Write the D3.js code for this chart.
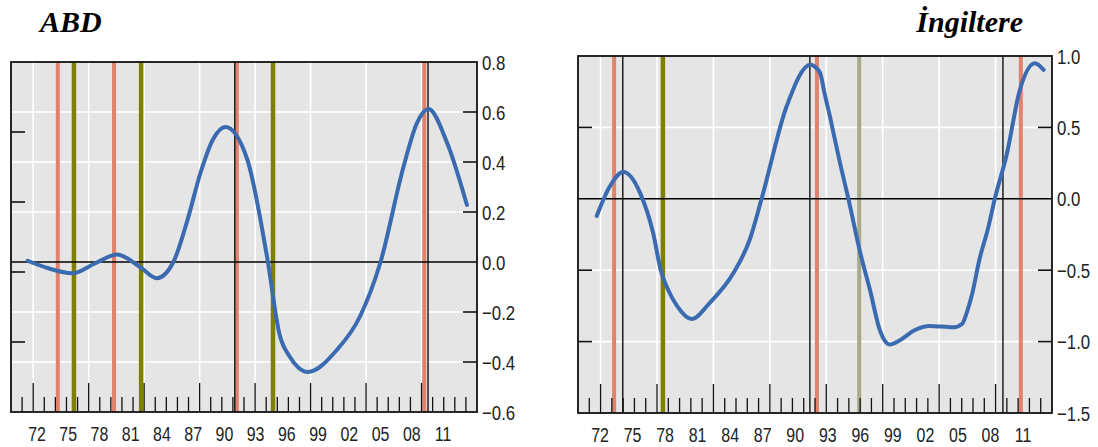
<!DOCTYPE html>
<html>
<head>
<meta charset="utf-8">
<script src="https://cdn.jsdelivr.net/npm/d3@7"></script>
<style>
  body { margin: 0; background: #fff; }
  .num { font-family: "Liberation Sans", Arial, sans-serif; fill: #222; }
  .ttl { font-family: "Liberation Serif", "Times New Roman", serif; font-weight: bold; font-style: italic; fill: #000; }
</style>
</head>
<body>
<svg width="1098" height="447"></svg>
<script>
const width = 1098, height = 447
var svg = d3.select("svg")

// year labels shared by both panels
const yearLabels = [1972, 1975, 1978, 1981, 1984, 1987, 1990, 1993, 1996, 1999, 2002, 2005, 2008, 2011]

// ABD (USA)
const usYears = [1971.1, 1973.0, 1975.4, 1977.6, 1979.7, 1981.9, 1983.5, 1985.1, 1986.4, 1987.7, 1988.9, 1990.1, 1992.2, 1994.1, 1995.3, 1996.3, 1997.1, 1998.0, 2000.8, 2003.0, 2005.0, 2007.2, 2008.5, 2009.6, 2011.4, 2013.3]
const usValues = [0.005, -0.024, -0.045, -0.005, 0.03, -0.02, -0.065, 0.0, 0.16, 0.356, 0.49, 0.54, 0.41, 0.02, -0.29, -0.38, -0.422, -0.44, -0.352, -0.22, 0.0, 0.38, 0.556, 0.612, 0.476, 0.228]
const usRed = [1974.0, 1979.4, 1991.2, 2009.2]
const usOlive = [1975.55, 1982.0, 1994.67]
const usBlack = [1991.0, 2009.56]
const usRightTicks = [0.8, 0.6, 0.4, 0.2, 0.0, -0.2, -0.4, -0.6]

// İngiltere (UK)
const ukYears = [1971.7, 1972.9, 1974.15, 1975.7, 1976.9, 1977.6, 1978.3, 1979.1, 1980.45, 1982.1, 1984.3, 1985.8, 1986.9, 1989.2, 1991.4, 1991.8, 1992.3, 1992.7, 1993.2, 1994.1, 1994.9, 1996.0, 1996.9, 1997.8, 1998.7, 1999.65, 2001.0, 2002.4, 2004.6, 2005.4, 2005.8, 2006.3, 2007.0, 2007.8, 2008.4, 2009.5, 2010.7, 2012.1, 2012.9]
const ukValues = [-0.12, 0.086, 0.187, 0.04, -0.24, -0.5, -0.64, -0.75, -0.842, -0.73, -0.52, -0.287, 0.0, 0.646, 0.938, 0.925, 0.88, 0.74, 0.576, 0.26, 0.0, -0.38, -0.64, -0.92, -1.02, -0.99, -0.92, -0.89, -0.9, -0.875, -0.8, -0.67, -0.42, -0.2, 0.0, 0.31, 0.76, 0.95, 0.903]
const ukRed = [1973.3, 1992.0, 2010.8]
const ukOlive = [1977.8]
const ukPaleOlive = [1995.9]
const ukBlack = [1974.1, 1991.35, 2009.15]
const ukRightTicks = [1.0, 0.5, 0.0, -0.5, -1.0, -1.5]

drawPanel({
    title: "ABD", titleX: 40, titleAnchor: "start",
    frame: { x0: 11, x1: 477, y0: 62, y1: 412 },
    xRange: [37, 443], labelY: 441,
    yDomain: [-0.6, 0.8], yFmt: d3.format(".1f"),
    gridY: [0.6, 0.4, 0.2, -0.2, -0.4],
    rightTicks: usRightTicks, rightTickMarks: [0.6, 0.4, 0.2, -0.2, -0.4],
    leftDomain: [-2, 3], leftTicks: [2, 1, 0, -1],
    years: usYears, values: usValues,
    red: usRed, olive: usOlive, pale: [], black: usBlack
})

drawPanel({
    title: "İngiltere", titleX: 1023, titleAnchor: "end",
    frame: { x0: 578, x1: 1052, y0: 56, y1: 413 },
    xRange: [600, 1023], labelY: 442,
    yDomain: [-1.5, 1.0], yFmt: d3.format(".1f"),
    gridY: [0.5, -0.5, -1.0],
    rightTicks: ukRightTicks, rightTickMarks: [0.5, -0.5, -1.0],
    leftDomain: [-1.5, 1.0], leftTicks: [0.5, -0.5, -1.0],
    years: ukYears, values: ukValues,
    red: ukRed, olive: ukOlive, pale: ukPaleOlive, black: ukBlack
})

function drawPanel(c) {
    const f = c.frame
    const g = svg.append("g")

    const x = d3.scaleLinear().domain([1972, 2011]).range(c.xRange)
    const y = d3.scaleLinear().domain(c.yDomain).range([f.y1, f.y0])
    const yLeft = d3.scaleLinear().domain(c.leftDomain).range([f.y1, f.y0])
    // the bottom ruler: 42 equal steps across the frame, long mark every 5
    const tk = d3.scaleLinear().domain([0, 42]).range([f.x0, f.x1])
    const rulerIdx = d3.range(1, 42)
    const majorIdx = d3.range(2, 42, 5)

    g.append("rect")
        .attr("x", f.x0).attr("y", f.y0)
        .attr("width", f.x1 - f.x0).attr("height", f.y1 - f.y0)
        .attr("fill", "#e5e5e5")

    // white grid
    g.selectAll(".gv").data(majorIdx).enter().append("line")
        .attr("x1", d => tk(d)).attr("x2", d => tk(d))
        .attr("y1", f.y0).attr("y2", f.y1)
        .attr("stroke", "#fff").attr("stroke-width", 1.6)
    g.selectAll(".gh").data(c.gridY).enter().append("line")
        .attr("x1", f.x0).attr("x2", f.x1)
        .attr("y1", d => y(d)).attr("y2", d => y(d))
        .attr("stroke", "#fff").attr("stroke-width", 1.6)

    // event lines
    const vlines = (data, color, w) => {
        g.append("g").selectAll("line").data(data).enter().append("line")
            .attr("x1", d => x(d)).attr("x2", d => x(d))
            .attr("y1", f.y0).attr("y2", f.y1)
            .attr("stroke", color).attr("stroke-width", w)
    }
    vlines(c.red, "#e0836c", 4)
    vlines(c.olive, "#808000", 4.5)
    vlines(c.pale, "#a8a88a", 4)
    vlines(c.black, "#111", 1.4)

    // zero line
    g.append("line")
        .attr("x1", f.x0).attr("x2", f.x1)
        .attr("y1", y(0)).attr("y2", y(0))
        .attr("stroke", "#000").attr("stroke-width", 1.6)

    // the curve
    const pts = c.years.map((yr, i) => [yr, c.values[i]])
    const line = d3.line()
        .x(d => x(d[0]))
        .y(d => y(d[1]))
        .curve(d3.curveMonotoneX)
    g.append("path")
        .attr("d", line(pts))
        .attr("fill", "none")
        .attr("stroke", "#3a6ab0")
        .attr("stroke-width", 4)
        .attr("stroke-linecap", "round")

    // bottom ruler ticks
    g.selectAll(".rt").data(rulerIdx).enter().append("line")
        .attr("x1", d => tk(d)).attr("x2", d => tk(d))
        .attr("y1", f.y1)
        .attr("y2", d => majorIdx.includes(d) ? f.y1 - 29 : f.y1 - 15)
        .attr("stroke", "#111").attr("stroke-width", 1.3)

    // left unlabeled ticks
    g.selectAll(".lt").data(c.leftTicks).enter().append("line")
        .attr("x1", f.x0).attr("x2", f.x0 + 14)
        .attr("y1", d => yLeft(d)).attr("y2", d => yLeft(d))
        .attr("stroke", "#111").attr("stroke-width", 1.6)

    // right ticks
    g.selectAll(".rk").data(c.rightTickMarks).enter().append("line")
        .attr("x1", f.x1 - 14).attr("x2", f.x1)
        .attr("y1", d => y(d)).attr("y2", d => y(d))
        .attr("stroke", "#111").attr("stroke-width", 1.6)

    // frame
    g.append("rect")
        .attr("x", f.x0).attr("y", f.y0)
        .attr("width", f.x1 - f.x0).attr("height", f.y1 - f.y0)
        .attr("fill", "none").attr("stroke", "#111").attr("stroke-width", 1.8)

    // right axis labels (condensed look)
    g.selectAll(".rl").data(c.rightTicks).enter().append("text")
        .attr("class", "num")
        .attr("transform", d => `translate(${f.x1 + 5},${y(d)}) scale(0.8,1)`)
        .attr("dy", "0.36em")
        .attr("font-size", 21)
        .text(d => c.yFmt(d))

    // year labels
    g.selectAll(".yl").data(yearLabels).enter().append("text")
        .attr("class", "num")
        .attr("transform", d => `translate(${x(d)},${c.labelY}) scale(0.76,1)`)
        .attr("text-anchor", "middle")
        .attr("font-size", 21)
        .text(d => String(d).slice(2))

    // title
    g.append("text")
        .attr("class", "ttl")
        .attr("x", c.titleX).attr("y", 32)
        .attr("text-anchor", c.titleAnchor)
        .attr("font-size", 30)
        .text(c.title)
}
</script>
</body>
</html>
